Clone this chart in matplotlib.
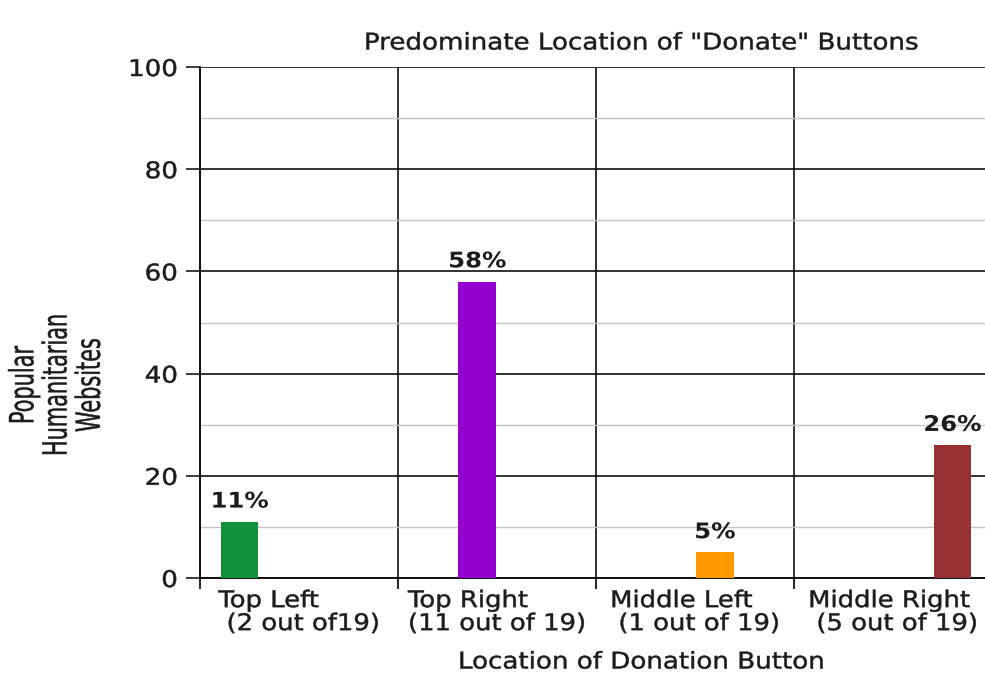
import matplotlib
matplotlib.use("Agg")
import matplotlib.pyplot as plt
import numpy as np
from matplotlib.patheffects import AbstractPathEffect
from matplotlib.transforms import Affine2D

plt.rcParams['font.family'] = ['DejaVu Sans']

# Data
categories = ["Top Left\n (2 out of19)", "Top Right\n(11 out of 19)",
              "Middle Left\n (1 out of 19)", "Middle Right\n (5 out of 19)"]
percentages = [11, 58, 5, 26]
bar_labels = ["11%", "58%", "5%", "26%"]
colors = ["#13913a", "#9300cf", "#ff9a00", "#983232"]

TEXT_COLOR = "#1c1c1c"


class Widen(AbstractPathEffect):
    """Draw text glyphs widened horizontally about the text's anchor point,
    with a thin outline in the fill colour to give slightly heavier strokes."""

    def __init__(self, text, sx, stroke=0.35):
        super().__init__()
        self.text = text
        self.sx = sx
        self.stroke = stroke

    def draw_path(self, renderer, gc, tpath, affine, rgbFace=None):
        x0 = self.text.get_transform().transform(self.text.get_unitless_position())[0]
        stretch = Affine2D().translate(-x0, 0).scale(self.sx, 1).translate(x0, 0)
        gc0 = renderer.new_gc()
        gc0.copy_properties(gc)
        if rgbFace is not None and self.stroke > 0:
            gc0.set_foreground(rgbFace)
            gc0.set_linewidth(self.stroke)
        else:
            gc0.set_linewidth(0)
        renderer.draw_path(gc0, tpath, affine + stretch, rgbFace)
        gc0.restore()


def widen(t, sx=1.14, stroke=0.35):
    t.set_path_effects([Widen(t, sx, stroke)])
    return t


fig = plt.figure(figsize=(9.85, 6.77), dpi=100)
ax = fig.add_axes([200/985, 1 - 578/677, 792/985, (578 - 67)/677])

n = len(categories)
x = np.arange(n)
width = 0.19
offsets = np.array([-0.3, -0.1, 0.1, 0.3])
for i in range(n):
    xi = x[i] + offsets[i]
    ax.bar(xi, percentages[i], width=width, color=colors[i], zorder=3)
    widen(ax.text(xi, percentages[i] + 2.0, bar_labels[i], ha='center', va='bottom',
                  fontsize=15.5, fontweight='bold', color=TEXT_COLOR, zorder=4),
          sx=1.13, stroke=0)

ax.set_xlim(-0.5, n - 0.5)
ax.set_ylim(0, 100)

# y axis
ax.set_yticks(np.arange(0, 101, 20))
ax.set_yticks(np.arange(10, 100, 20), minor=True)
ax.tick_params(axis='y', which='major', length=10, width=1.2, direction='out',
               labelsize=16.5, pad=6, colors=TEXT_COLOR)
ax.tick_params(axis='y', which='minor', length=0)

# x axis: labels at centers, tick marks at category boundaries
ax.set_xticks(x)
ax.set_xticklabels(categories, multialignment='left')
ax.set_xticks(np.arange(-0.5, n, 1.0), minor=True)
ax.tick_params(axis='x', which='major', length=0, labelsize=16.5, pad=8, colors=TEXT_COLOR)
ax.tick_params(axis='x', which='minor', length=8, width=1.2, direction='out')

for t in ax.get_yticklabels():
    widen(t, sx=1.14)
for t in ax.get_xticklabels():
    t.set_linespacing(1.0)
    widen(t, sx=1.13)

ax.grid(axis='y', which='major', color='#111111', linewidth=1.2, zorder=1)
ax.grid(axis='y', which='minor', color='#c4c4c4', linewidth=1.0, zorder=1)
ax.grid(axis='x', which='minor', color='#111111', linewidth=1.2, zorder=1)

for s in ['top', 'right']:
    ax.spines[s].set_visible(False)
for s in ['left', 'bottom']:
    ax.spines[s].set_linewidth(1.4)
    ax.spines[s].set_color('#111111')

widen(fig.text(641/985, 1 - 43/677, 'Predominate Location of "Donate" Buttons',
               ha='center', va='center', fontsize=16.5, color=TEXT_COLOR), sx=1.14)
widen(fig.text(641/985, 1 - 662/677, 'Location of Donation Button',
               ha='center', va='center', fontsize=16.5, color=TEXT_COLOR), sx=1.14)
widen(fig.text(57/985, 1 - 385/677, 'Popular\nHumanitarian\nWebsites',
               ha='center', va='center', rotation=90, fontsize=15, color=TEXT_COLOR,
               multialignment='center', linespacing=1.05), sx=1.6)

fig.savefig("out.png", dpi=100)
